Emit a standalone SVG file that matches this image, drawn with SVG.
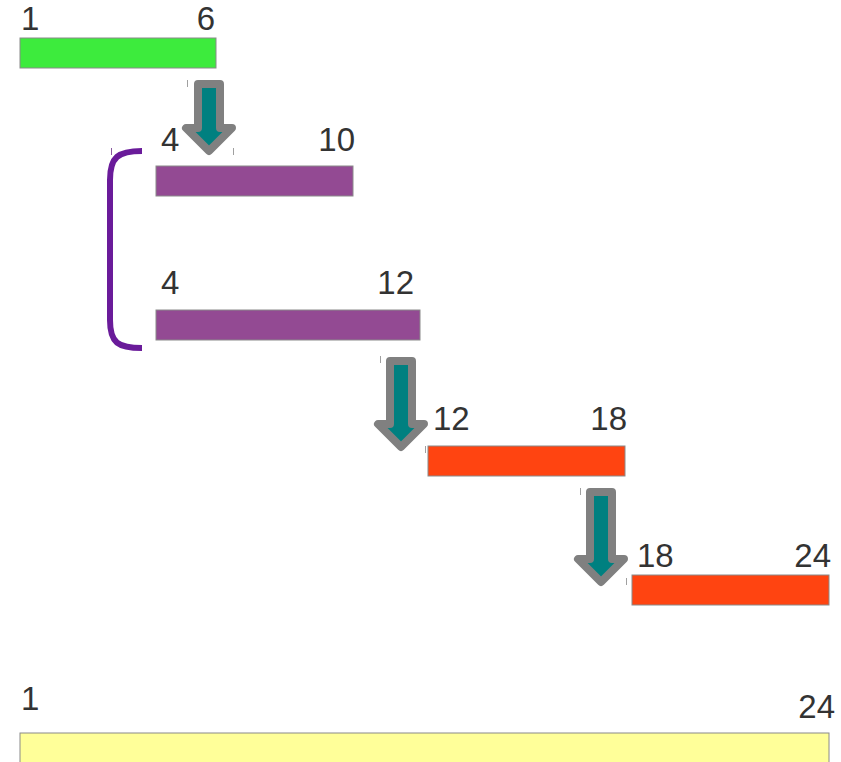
<svg xmlns="http://www.w3.org/2000/svg" width="841" height="762" viewBox="0 0 841 762">
<style>
.bar{stroke:#8a8a8a;stroke-width:1}
.lbl{font-family:"Liberation Sans",Arial,sans-serif;font-size:33px;fill:#333333}
.end{text-anchor:end}
.arrow{fill:#008080;stroke:#808080;stroke-width:8;stroke-linejoin:round}
.tick{stroke:#a0a0a0;stroke-width:1}
</style>
<rect width="841" height="762" fill="#ffffff"/>
<g id="bar-1-6">
<rect class="bar" x="20" y="38" width="196" height="30" fill="#3deb3d"/>
<text class="lbl" x="21" y="30">1</text>
<text class="lbl end" x="215" y="30">6</text>
</g>
<g id="bar-4-10">
<rect class="bar" x="156" y="166" width="197" height="30" fill="#934a93"/>
<text class="lbl" x="161" y="151">4</text>
<text class="lbl end" x="355" y="151">10</text>
</g>
<g id="bar-4-12">
<rect class="bar" x="156" y="310" width="264" height="30" fill="#934a93"/>
<text class="lbl" x="161" y="294">4</text>
<text class="lbl end" x="414" y="294">12</text>
</g>
<g id="bar-12-18">
<rect class="bar" x="428" y="446" width="197" height="30" fill="#ff4411"/>
<text class="lbl" x="433" y="430">12</text>
<text class="lbl end" x="627" y="430">18</text>
</g>
<g id="bar-18-24">
<rect class="bar" x="632" y="575" width="197" height="30" fill="#ff4411"/>
<text class="lbl" x="637" y="567">18</text>
<text class="lbl end" x="831" y="567">24</text>
</g>
<g id="bar-1-24">
<rect class="bar" x="20" y="733" width="809" height="40" fill="#ffff99"/>
<text class="lbl" x="21" y="710">1</text>
<text class="lbl end" x="835" y="718">24</text>
</g>
<g id="bracket">
<path d="M142,151 C118,151 110,157 110,180 V320 C110,343 118,348 142,348" fill="none" stroke="#6a1b9a" stroke-width="6"/>
<line x1="111.5" y1="148" x2="111.5" y2="155" stroke="#8a5aa0" stroke-width="1"/>
</g>
<g id="connectors">
<path class="arrow" d="M198,84 H220 V128 H232 L209,151 L186,128 H198 Z"/>
<path class="arrow" d="M390,361 H412 V424 H424 L401,447 L378,424 H390 Z"/>
<path class="arrow" d="M590,492 H612 V559 H624 L601,582 L578,559 H590 Z"/>
<line class="tick" x1="187.5" y1="80" x2="187.5" y2="87"/>
<line class="tick" x1="233.5" y1="148" x2="233.5" y2="155"/>
<line class="tick" x1="380.5" y1="356" x2="380.5" y2="363"/>
<line class="tick" x1="425.5" y1="446" x2="425.5" y2="453"/>
<line class="tick" x1="580.5" y1="488" x2="580.5" y2="495"/>
<line class="tick" x1="626.5" y1="578" x2="626.5" y2="585"/>
</g>
</svg>
